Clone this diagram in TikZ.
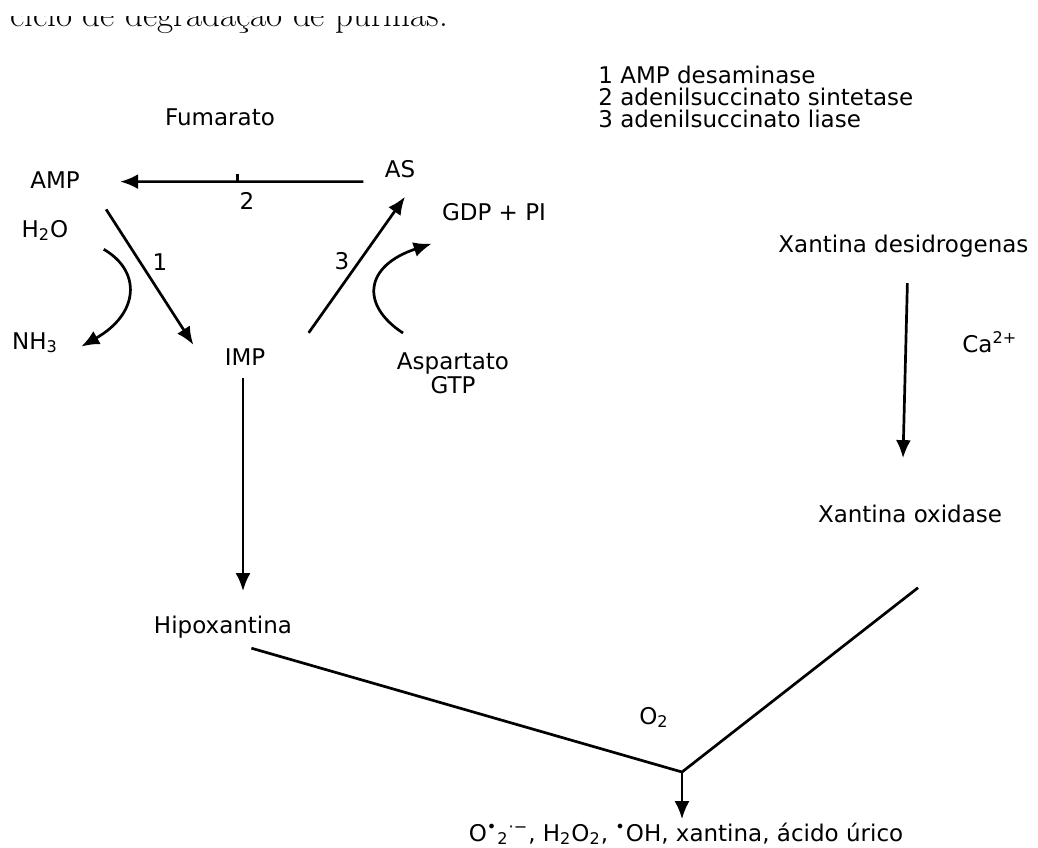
\documentclass[tikz,border=0pt]{standalone}
\usepackage{fontspec}
\setsansfont{DejaVu Sans}
\usetikzlibrary{arrows.meta,calc}

\tikzset{
  lbl/.style={font=\sffamily\fontsize{11.5}{13}\selectfont, inner sep=0pt},
  arr/.style={-{Latex[length=9pt,width=7.5pt]}, line width=1.35pt},
  ln/.style={line width=1.35pt}
}

\begin{document}
\begin{tikzpicture}[x=0.5pt,y=-0.5pt]
\useasboundingbox (0,0) rectangle (1038,847);

% caption line, cut at the top
\begin{scope}
\clip (0,16) rectangle (1038,60);
\node[anchor=base west, inner sep=0pt, font=\fontsize{17.5}{20}\selectfont] (caption) at (10,26) {ciclo de degradação de purinas.};
\end{scope}

% enzymes
\foreach \n/\t in {1/AMP desaminase, 2/adenilsuccinato sintetase, 3/adenilsuccinato liase}
{ \node[lbl, anchor=base west] (enz\n) at (598,{61+22*\n}) {\n\ \t};
}

% cycle
\node[lbl, anchor=base] (fumarato) at (220,125) {Fumarato};
\node[lbl, anchor=base] (amp) at (55,188) {AMP};
\node[lbl, anchor=base] (as) at (400,177) {AS};
\node[lbl, anchor=base] (gdp) at (494,220) {GDP + PI};
\node[lbl, anchor=base] (h2o) at (45,237) {H\textsubscript{2}O};
\node[lbl, anchor=base] (nh3) at (35,349) {NH\textsubscript{3}};
\node[lbl, anchor=base] (imp) at (245,365) {IMP};
\node[lbl, anchor=north, align=center, font=\sffamily\fontsize{11.5}{9.5}\selectfont] (asp) at (453,352) {Aspartato\\GTP};

\draw[arr] ([shift={(-21,13)}]as.west) -- coordinate[pos=0.517] (fum) ([shift={(40,2)}]amp.east);
\draw[ln] (fum) -- ++(0,-8);
\node[lbl, anchor=base] (n2) at (247,209) {2};

\draw[arr] ([shift={(26,21)}]amp.south east) -- ([shift={(-31,-3)}]imp.north west);
\node[lbl, anchor=base] (n1) at (160,270) {1};
\draw[arr] ([shift={(35,19)}]h2o.east) .. controls +(38,22) and +(58,-33) .. ([shift={(23,4)}]nh3.east);

\draw[arr] ([shift={(43,-15)}]imp.north east) -- ([shift={(5,19)}]as.south);
\node[lbl, anchor=base] (n3) at (342,269) {3};
\draw[arr] ([shift={(-50,-19)}]asp.north) .. controls +(-43,-28) and +(-67,22) .. ([shift={(-10,23)}]gdp.south west);

% degradation
\node[lbl, anchor=base] (hipox) at (223,633) {Hipoxantina};
\draw[arr] ([shift={(-2,13)}]imp.south) -- ($(imp.south |- hipox.north)+(-2,-24)$);

\node[lbl, anchor=base west] (xd) at (778,252) {Xantina desidrogenas};
\node[lbl, anchor=base west] (ca) at (962,352) {Ca\textsuperscript{2+}};
\node[lbl, anchor=base] (xo) at (910,522) {Xantina oxidase};
\draw[arr] ([shift={(4,26)}]xd.south) -- ([shift={(-7,-46)}]xo.north);

\coordinate (join) at (682,772);
\draw[ln] ([shift={(-41,10)}]hipox.south east) -- (join) -- ([shift={(8,65)}]xo.south);
\node[lbl, anchor=base] (o2) at (654,724) {O\textsubscript{2}};

\node[lbl, anchor=base] (prod) at (686,841) {O\textsuperscript{•}\textsubscript{2}\textsuperscript{·−}, H\textsubscript{2}O\textsubscript{2}, \textsuperscript{•}OH, xantina, ácido úrico};
\draw[arr] (join) -- ($(join |- prod.north)+(0,-3)$);
\end{tikzpicture}
\end{document}
